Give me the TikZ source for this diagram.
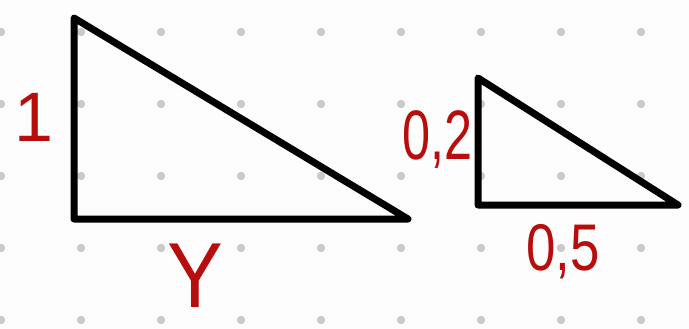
\documentclass[tikz,border=0pt]{standalone}
\usepackage{fontspec}
\setmainfont{Liberation Sans}
\definecolor{inkred}{HTML}{B80D0D}
\definecolor{dotgray}{HTML}{CACACA}
\definecolor{paper}{HTML}{FDFDFD}
\tikzset{
  edge/.style={line width=7pt, line join=round, line cap=round, black},
  griddot/.style={fill=dotgray, draw=none},
  lbl/.style={inkred, inner sep=0pt, anchor=base west},
}
\begin{document}
\begin{tikzpicture}[x=1pt,y=-1pt]
\fill[paper] (0,0) rectangle (689,329);
\useasboundingbox (0,0) rectangle (689,329);
% dot grid
\foreach \i in {0,...,8}{
  \foreach \j in {0,...,4}{
    \fill[griddot] (80*\i+1,32+72*\j) circle (4.2);
  }
}
% big triangle
\coordinate (A) at (74,18);
\coordinate (B) at (74,219);
\coordinate (C) at (408,219);
\draw[edge] (A) -- (B) -- (C) -- cycle;
% small triangle
\coordinate (D) at (478,78);
\coordinate (E) at (478,205);
\coordinate (F) at (678,205);
\draw[edge] (D) -- (E) -- (F) -- cycle;
% labels
\node[lbl] (one) at (14,142) {\fontsize{70}{70}\selectfont 1};
\node[lbl] (why) at (167,307) {\scalebox{0.95}[1.05]{\fontsize{88}{88}\selectfont Y}};
\node[lbl] (ozt) at (402,160) {\scalebox{0.72}[1]{\fontsize{70}{70}\selectfont 0,2}};
\node[lbl] (ozf) at (526,270) {\scalebox{0.8}[1]{\fontsize{66}{66}\selectfont 0,5}};
\end{tikzpicture}
\end{document}
